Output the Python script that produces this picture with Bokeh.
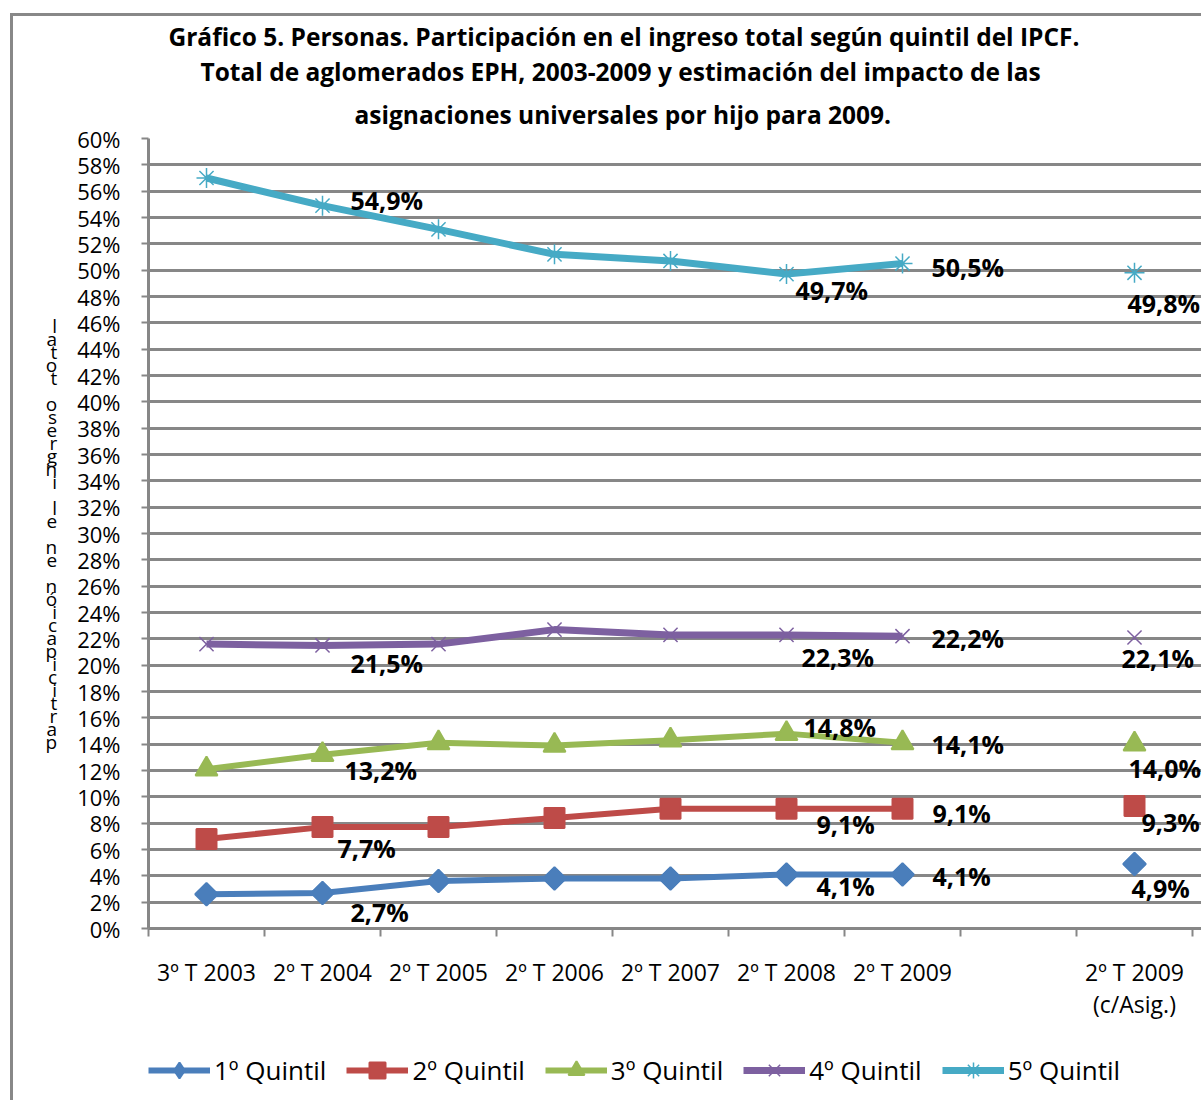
from bokeh.plotting import figure
from bokeh.models import (ColumnDataSource, FixedTicker, Range1d, Legend,
                          LegendItem, Title)
from bokeh.layouts import column
from bokeh.core.properties import value
from bokeh.embed import file_html
from bokeh.resources import INLINE
import math

# ---------------- data ----------------
categories = ["3º T 2003", "2º T 2004", "2º T 2005", "2º T 2006", "2º T 2007",
              "2º T 2008", "2º T 2009", "", "2º T 2009\n(c/Asig.)"]
series_names = ["1º Quintil", "2º Quintil", "3º Quintil", "4º Quintil", "5º Quintil"]
q1 = [2.6, 2.7, 3.6, 3.8, 3.8, 4.1, 4.1]
q2 = [6.8, 7.7, 7.7, 8.4, 9.1, 9.1, 9.1]
q3 = [12.1, 13.2, 14.1, 13.9, 14.3, 14.8, 14.1]
q4 = [21.6, 21.5, 21.6, 22.7, 22.3, 22.3, 22.2]
q5 = [57.0, 54.9, 53.1, 51.2, 50.7, 49.7, 50.5]
asig = [4.9, 9.3, 14.0, 22.1, 49.8]          # 2º T 2009 (c/Asig.)
labeled_idx = [1, 5, 6]                     # points carrying a data label
y_ticks = list(range(0, 61, 2))
y_tick_labels = [f"{t}%" for t in y_ticks]
title_lines = ["Gráfico 5. Personas.  Participación  en el ingreso total según quintil del IPCF.",
               "Total de aglomerados  EPH, 2003-2009 y estimación  del impacto de las",
               "asignaciones  universales  por hijo para 2009."]
y_axis_title = "participación en el ingreso total"

# ---------------- styles ----------------
FONT = "Open Sans"
GRID = "#878787"
colors = ["#4A7EBB", "#BE4B48", "#98B954", "#7D60A0", "#46AAC5"]
markers = ["square", "square", "triangle", "x", "asterisk"]
legend_markers = ["diamond", "square", "triangle", "x", "asterisk"]
angles = [math.pi / 4, 0, 0, 0, 0]
msizes = [16, 20, 22, 20, 20]
mlw = [2, 2, 2, 1.5, 1.5]
lwidths = [6, 6, 6, 7, 7]
# label offsets (px) for labeled_idx points and the c/Asig point
offsets = [
    [(28, 19), (30, 11), (30, 1), (-3, 24)],
    [(15, 21), (30, 15), (30, 4), (7, 16)],
    [(22, 15), (17, -7), (29, 1), (-6, 24)],
    [(28, 18), (15, 22), (29, 2), (-13, 20)],
    [(28, -6), (9, 16), (29, 3), (-7, 30)],
]
title_offsets = [20, 52, 206]

W = 1201
H = 1040          # main chart
HL = 60           # legend strip
LEFT, TOP = 148, 138
CAT_W = (1192 - LEFT) / 9.0     # px per category in the reference
RIGHT = 0
BOTTOM = H - 928
BORDER = "#888888"

n = len(categories)
xs_all = list(range(n))
asig_x = n - 1
x_end = n - 0.5 + (W - 1192) / CAT_W   # let the frame run to the canvas edge

p = figure(width=W, height=H, output_backend="svg", toolbar_location=None,
           x_range=Range1d(-0.5, x_end), y_range=Range1d(0, 60),
           min_border_left=LEFT, min_border_right=RIGHT,
           min_border_top=TOP, min_border_bottom=BOTTOM)
p.outline_line_color = None
p.background_fill_color = "white"
p.border_fill_alpha = 0
p.styles = {"background": f"linear-gradient({BORDER},{BORDER}) 10px 13px / 3px 100% no-repeat, "
                          f"linear-gradient({BORDER},{BORDER}) 10px 13px / 100% 3px no-repeat, white"}

# axes
p.xgrid.visible = False
p.ygrid.grid_line_color = GRID
p.ygrid.grid_line_width = 3
p.yaxis.ticker = FixedTicker(ticks=y_ticks)
p.yaxis.major_label_overrides = {t: l for t, l in zip(y_ticks, y_tick_labels)}
p.yaxis.major_tick_out = 7
p.yaxis.major_tick_in = 0
p.yaxis.minor_tick_out = 0
p.yaxis.minor_tick_in = 0
p.yaxis.major_label_standoff = 21
for ax in (p.xaxis[0], p.yaxis[0]):
    ax.axis_line_color = GRID
    ax.axis_line_width = 3
    ax.major_tick_line_color = GRID
    ax.major_tick_line_width = 2
    ax.minor_tick_line_color = GRID
    ax.minor_tick_line_width = 2
    ax.major_label_text_font = FONT
    ax.major_label_text_color = "black"
p.yaxis.major_label_text_font_size = "22px"

# stacked (unrotated) vertical axis title
p.yaxis.axis_label = "\n".join(reversed(y_axis_title))
p.yaxis.axis_label_orientation = "horizontal"
p.yaxis.axis_label_text_font = FONT
p.yaxis.axis_label_text_font_style = "normal"
p.yaxis.axis_label_text_font_size = "19px"
p.yaxis.axis_label_text_line_height = 0.5
p.yaxis.axis_label_text_color = "black"
p.yaxis.axis_label_standoff = 17

p.xaxis.ticker = FixedTicker(ticks=xs_all, minor_ticks=[i - 0.5 for i in range(n + 1)])
p.xaxis.major_label_overrides = {i: c for i, c in enumerate(categories)}
p.xaxis.major_tick_out = 0
p.xaxis.major_tick_in = 0
p.xaxis.minor_tick_out = 8
p.xaxis.minor_tick_in = 0
p.xaxis.major_label_standoff = 19
p.xaxis.major_label_text_font_size = "23px"
p.xaxis.major_label_text_line_height = 1.0

# legend strip (separate figure so that nothing is clipped); its ranges keep
# the copies of the series out of view, only their legend swatches show
pl = figure(width=W, height=HL, output_backend="svg", toolbar_location=None,
            x_range=Range1d(0, 1), y_range=Range1d(0, 1),
            x_axis_location=None, y_axis_location=None,
            min_border=0, min_border_left=0, min_border_right=0,
            min_border_top=0, min_border_bottom=0)
pl.grid.visible = False
pl.outline_line_color = None
pl.border_fill_alpha = 0
pl.background_fill_alpha = 0
pl.styles = {"background": f"linear-gradient({BORDER},{BORDER}) 10px 0px / 3px 100% no-repeat, white"}

series = [q1, q2, q3, q4, q5]
legend_items = []
lab_x, lab_y, lab_t, lab_dx, lab_dy = [], [], [], [], []
for s, vals in enumerate(series):
    xs = xs_all[:len(vals)]
    style_line = dict(line_color=colors[s], line_width=lwidths[s], line_join="round")
    mk = dict(marker=markers[s], size=msizes[s], angle=angles[s],
              line_color=colors[s], fill_color=colors[s], line_width=mlw[s])
    p.line(xs, vals, **style_line)
    p.scatter(xs + [asig_x], vals + [asig[s]], **mk)
    # legend swatches (same series, outside the strip's view)
    lr = pl.line(xs, vals, **style_line)
    sr = pl.scatter(xs, vals, marker=legend_markers[s], size=msizes[s],
                    line_color=colors[s], fill_color=colors[s], line_width=mlw[s])
    legend_items.append(LegendItem(label=series_names[s], renderers=[lr, sr]))
    pts = [(i, vals[i]) for i in labeled_idx] + [(asig_x, asig[s])]
    for (xi, v), (dx, dy) in zip(pts, offsets[s]):
        lab_x.append(xi)
        lab_y.append(v)
        lab_t.append(f"{v:.1f}".replace(".", ",") + "%")
        lab_dx.append(dx)
        lab_dy.append(dy)

src = ColumnDataSource(dict(x=lab_x, y=lab_y, t=lab_t, dx=lab_dx, dy=lab_dy))
p.text(x="x", y="y", text="t", x_offset="dx", y_offset="dy", source=src,
       text_font=value(FONT), text_font_style="bold", text_font_size="25px",
       text_color="black", text_align="left", text_baseline="middle")

legend = Legend(items=legend_items, orientation="horizontal", location=(0, 10),
                glyph_width=62, glyph_height=40, label_text_font=FONT,
                label_text_font_size="26px", label_text_color="black",
                spacing=20, padding=0, margin=0, label_standoff=4,
                background_fill_alpha=0, border_line_color=None)
pl.add_layout(legend)

# title lines (added bottom line first: later titles stack above)
for k, (line, off) in enumerate(reversed(list(zip(title_lines, title_offsets)))):
    p.add_layout(Title(text=line, align="left", offset=off, standoff=16 if k == 0 else 0,
                       text_font=FONT, text_font_style="bold", text_font_size="24.5px",
                       text_color="black"), "above")

layout = column(p, pl, spacing=0)
open("out.html", "w").write(file_html(layout, INLINE))
